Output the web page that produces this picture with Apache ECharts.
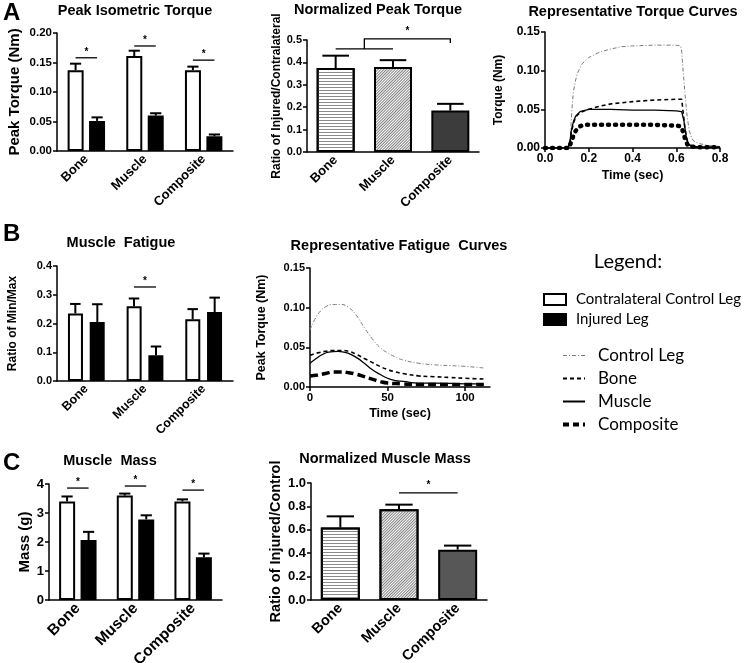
<!DOCTYPE html>
<html><head><meta charset="utf-8">
<script src="https://cdn.jsdelivr.net/npm/echarts@6/dist/echarts.min.js"></script>
<style>html,body{margin:0;padding:0;background:#fff}#c{width:748px;height:663px}</style>
</head><body><div id="c"></div>
<script>
const groups = ['Bone', 'Muscle', 'Composite'];
// A – Peak isometric torque (Nm)
const torqueControl = [0.137, 0.161, 0.137];
const torqueControlErr = [0.011, 0.009, 0.006];
const torqueInjured = [0.051, 0.060, 0.025];
const torqueInjuredErr = [0.006, 0.004, 0.003];
const torqueSig = [0.158, 0.178, 0.154];
// A – Normalized peak torque
const torqueRatio = [0.375, 0.38, 0.185];
const torqueRatioErr = [0.055, 0.03, 0.03];
const torqueRatioBracket = [[0, 1, 2, 0.46, 0.505, 0.487]];
// A – Representative torque curves [time s, torque Nm]
const tcControl = [[0,0],[0.105,0],[0.115,0.01],[0.12,0.035],[0.125,0.058],[0.13,0.073],[0.14,0.088],[0.15,0.098],[0.17,0.109],[0.2,0.117],[0.25,0.124],[0.3,0.128],[0.35,0.131],[0.4,0.132],[0.5,0.133],[0.6,0.133],[0.62,0.132],[0.625,0.125],[0.63,0.105],[0.64,0.07],[0.65,0.04],[0.66,0.022],[0.67,0.013],[0.68,0.009],[0.7,0.006],[0.75,0.003],[0.8,0.002]];
const tcBone = [[0,0],[0.105,0],[0.115,0.008],[0.12,0.02],[0.13,0.032],[0.14,0.04],[0.16,0.046],[0.2,0.05],[0.25,0.054],[0.3,0.057],[0.4,0.06],[0.5,0.062],[0.6,0.063],[0.625,0.063],[0.63,0.05],[0.64,0.025],[0.65,0.01],[0.66,0.004],[0.7,0.001],[0.8,0.001]];
const tcMuscle = [[0,0],[0.105,0],[0.115,0.01],[0.12,0.022],[0.13,0.034],[0.14,0.041],[0.16,0.047],[0.2,0.05],[0.3,0.05],[0.4,0.049],[0.5,0.049],[0.6,0.048],[0.625,0.047],[0.635,0.035],[0.645,0.015],[0.655,0.005],[0.67,0.002],[0.7,0.001],[0.8,0.001]];
const tcComposite = [[0,0],[0.11,0],[0.12,0.008],[0.13,0.016],[0.14,0.022],[0.16,0.028],[0.18,0.03],[0.3,0.03],[0.4,0.03],[0.5,0.03],[0.6,0.029],[0.62,0.028],[0.63,0.022],[0.64,0.012],[0.65,0.005],[0.66,0.002],[0.7,0.001],[0.8,0.001]];
// B – Muscle fatigue (ratio min/max)
const fatigueControl = [0.235, 0.26, 0.215];
const fatigueControlErr = [0.033, 0.027, 0.035];
const fatigueInjured = [0.205, 0.09, 0.24];
const fatigueInjuredErr = [0.062, 0.03, 0.05];
const fatigueSig = [[1, 0.327]];
// B – Representative fatigue curves [time s, peak torque Nm]
const fcControl = [[0,0.072],[3,0.085],[6,0.094],[10,0.101],[15,0.104],[20,0.104],[25,0.1],[30,0.09],[35,0.075],[40,0.061],[45,0.05],[50,0.043],[55,0.038],[60,0.034],[70,0.03],[80,0.028],[90,0.027],[100,0.026],[112,0.024]];
const fcBone = [[0,0.040],[5,0.043],[10,0.045],[15,0.046],[20,0.046],[25,0.045],[30,0.041],[35,0.036],[40,0.031],[45,0.026],[50,0.022],[55,0.019],[60,0.017],[70,0.014],[80,0.013],[90,0.012],[100,0.011],[112,0.010]];
const fcMuscle = [[0,0.030],[4,0.036],[8,0.041],[12,0.044],[18,0.045],[24,0.043],[30,0.037],[35,0.030],[40,0.022],[45,0.016],[50,0.011],[55,0.008],[60,0.007],[70,0.005],[80,0.005],[100,0.004],[112,0.004]];
const fcComposite = [[0,0.014],[5,0.015],[10,0.017],[15,0.019],[20,0.019],[25,0.018],[30,0.016],[35,0.013],[40,0.010],[45,0.007],[50,0.005],[60,0.004],[70,0.003],[90,0.003],[112,0.003]];
// C – Muscle mass (g)
const massControl = [3.4, 3.6, 3.4];
const massControlErr = [0.17, 0.07, 0.07];
const massInjured = [2.07, 2.78, 1.47];
const massInjuredErr = [0.28, 0.14, 0.13];
const massSig = [3.86, 3.93, 3.79];
// C – Normalized muscle mass
const massRatio = [0.62, 0.775, 0.43];
const massRatioErr = [0.095, 0.04, 0.035];
const massRatioSig = [[1, 2, 0.915]];

const F = '"Liberation Sans", Arial, sans-serif';
const chart = echarts.init(document.getElementById('c'));

function errRows(v, e) { return v.map((x, i) => [i, x, e[i]]); }
function errSeries(grid, v, e, side, pitch, barW) {
  return {
    type: 'custom', xAxisIndex: grid, yAxisIndex: grid, z: 3, silent: true,
    data: errRows(v, e),
    renderItem: (p, api) => {
      const c = api.coord([api.value(0), api.value(1)]);
      const t = api.coord([api.value(0), api.value(1) + api.value(2)]);
      const x = c[0] + side * pitch / 2, cap = barW * 0.35;
      return { type: 'group', children: [
        { type: 'line', shape: { x1: x, y1: c[1], x2: x, y2: t[1] }, style: { stroke: '#000', lineWidth: 2 } },
        { type: 'line', shape: { x1: x - cap, y1: t[1], x2: x + cap, y2: t[1] }, style: { stroke: '#000', lineWidth: 2 } }
      ] };
    }
  };
}
function star(x, y) {
  return { type: 'text', x: x, y: y - 1, style: { text: '*', fill: '#000', font: 'bold 10px ' + F, align: 'center', verticalAlign: 'bottom' } };
}
function sigGroupSeries(grid, rows, pitch) {
  return {
    type: 'custom', xAxisIndex: grid, yAxisIndex: grid, silent: true, data: rows,
    renderItem: (p, api) => {
      const c = api.coord([api.value(0), api.value(1)]);
      return { type: 'group', children: [
        { type: 'line', shape: { x1: c[0] - pitch / 2, y1: c[1], x2: c[0] + pitch / 2, y2: c[1] }, style: { stroke: '#000', lineWidth: 1.3 } },
        star(c[0], c[1])
      ] };
    }
  };
}
function sigPairSeries(grid, rows) {
  return {
    type: 'custom', xAxisIndex: grid, yAxisIndex: grid, silent: true, data: rows,
    renderItem: (p, api) => {
      const a = api.coord([api.value(0), api.value(2)]);
      const b = api.coord([api.value(1), api.value(2)]);
      return { type: 'group', children: [
        { type: 'line', shape: { x1: a[0], y1: a[1], x2: b[0], y2: b[1] }, style: { stroke: '#000', lineWidth: 1.3 } },
        star((a[0] + b[0]) / 2, a[1] - 2)
      ] };
    }
  };
}
function bracketSeries(grid, rows) {
  return {
    type: 'custom', xAxisIndex: grid, yAxisIndex: grid, silent: true, data: rows,
    renderItem: (p, api) => {
      const a = api.coord([api.value(0), api.value(3)]);
      const b = api.coord([api.value(1), api.value(3)]);
      const m = (a[0] + b[0]) / 2;
      const top = api.coord([api.value(2), api.value(4)]);
      const end = api.coord([api.value(2), api.value(5)]);
      const st = { stroke: '#000', lineWidth: 1.3, fill: null };
      return { type: 'group', children: [
        { type: 'line', shape: { x1: a[0], y1: a[1], x2: b[0], y2: b[1] }, style: st },
        { type: 'polyline', shape: { points: [[m, a[1]], [m, top[1]], [top[0], top[1]], [top[0], end[1]]] }, style: st },
        star((m + top[0]) / 2, top[1] - 2)
      ] };
    }
  };
}
const axisLineStyle = { color: '#000', width: 1.5 };
function lbl(fs) { return { color: '#000', fontWeight: 'bold', fontSize: fs, fontFamily: F }; }
function catX(grid, fs) {
  return { type: 'category', gridIndex: grid, data: groups,
    axisLine: { lineStyle: axisLineStyle },
    axisTick: { alignWithLabel: true, length: 4, lineStyle: axisLineStyle },
    axisLabel: Object.assign({ rotate: 45, margin: 6 }, lbl(fs)) };
}
function valAxis(grid, min, max, interval, digits, name, gap, tickFs, nameFs, extra) {
  return Object.assign({ type: 'value', gridIndex: grid, min: min, max: max, interval: interval,
    name: name, nameLocation: 'middle', nameGap: gap, nameTextStyle: lbl(nameFs),
    splitLine: { show: false },
    axisLine: { show: true, lineStyle: axisLineStyle },
    axisTick: { show: true, length: 4, lineStyle: axisLineStyle },
    axisLabel: Object.assign({ margin: 5, formatter: v => v.toFixed(digits) }, lbl(tickFs)) }, extra || {});
}
function bar(grid, name, data, w, gap, style) {
  return { type: 'bar', name: name, xAxisIndex: grid, yAxisIndex: grid, data: data, barWidth: w, barGap: gap,
    itemStyle: Object.assign({ borderColor: '#000', borderWidth: 2 }, style), silent: true };
}
const whiteBar = { color: '#fff' };
const blackBar = { color: '#000' };
const boneDecal = { color: '#fff', decal: { symbol: 'rect', symbolSize: 1, dashArrayX: [1, 0], dashArrayY: [1, 2], rotation: 0, color: '#8a8a8a' } };
const muscleDecal = { color: '#fff', decal: { symbol: 'rect', symbolSize: 1, dashArrayX: [1, 0], dashArrayY: [1, 1], rotation: -Math.PI / 4, color: '#808080' } };
function ratioBars(grid, vals, compColor, w) {
  return bar(grid, 'ratio' + grid, vals.map((v, i) => ({ value: v,
    itemStyle: i === 0 ? boneDecal : i === 1 ? muscleDecal : { color: compColor } })), w, '0%', {});
}
function line(grid, name, data, ls, smooth) {
  return { type: 'line', name: name, xAxisIndex: grid, yAxisIndex: grid, data: data, symbol: 'none',
    smooth: smooth, lineStyle: ls, itemStyle: { color: ls.color }, silent: true, z: name === 'Control Leg' ? 1 : 2 };
}
const lsControl = { color: '#7a7a7a', width: 1, type: [4, 2, 1, 2] };
const lsBone = { color: '#000', width: 1.6, type: [4, 3] };
const lsMuscle = { color: '#000', width: 1.3, type: 'solid' };
const lsCompA = { color: '#000', width: 4.5, type: [1, 6], cap: 'round' };
const lsCompB = { color: '#000', width: 3.5, type: [8, 4] };

const gridBoxes = [
  { left: 57, top: 33, width: 176, height: 118 },   // 0 A peak torque
  { left: 307, top: 40, width: 172, height: 112 },  // 1 A normalized
  { left: 545, top: 32, width: 175, height: 116 },  // 2 A curves
  { left: 57, top: 266, width: 176, height: 115 },  // 3 B fatigue
  { left: 310, top: 268, width: 180, height: 119 }, // 4 B curves
  { left: 49, top: 484, width: 173, height: 116 },  // 5 C mass
  { left: 311, top: 483, width: 176, height: 117 }  // 6 C normalized
];
const grids = gridBoxes.map(g => Object.assign({ containLabel: false, outerBoundsMode: 'none' }, g));

function txt(x, y, s, font, align) {
  return { type: 'text', x: x, y: y, style: { text: s, fill: '#000', font: font, align: align || 'center', verticalAlign: 'middle' } };
}
const TF = 'bold 14.5px ' + F;
const LF = 'bold 24px ' + F;

const option = {
  animation: false,
  backgroundColor: '#fff',
  grid: grids,
  xAxis: [
    catX(0, 13), catX(1, 13),
    valAxis(2, 0, 0.8, 0.2, 1, 'Time (sec)', 21, 12, 12.5),
    catX(3, 12.5),
    valAxis(4, 0, 116, 50, 0, 'Time (sec)', 20, 11.5, 12.5, {
      axisLabel: Object.assign({ margin: 5, customValues: [0, 50, 100] }, lbl(11.5)),
      axisTick: { show: true, length: 4, lineStyle: axisLineStyle, customValues: [0, 50, 100] } }),
    catX(5, 15.5), catX(6, 14.5)
  ],
  yAxis: [
    valAxis(0, 0, 0.2, 0.05, 2, 'Peak Torque (Nm)', 35, 11.5, 15),
    valAxis(1, 0, 0.5, 0.1, 1, 'Ratio of Injured/Contralateral', 23, 11, 12),
    valAxis(2, 0, 0.15, 0.05, 2, 'Torque (Nm)', 40, 12, 12),
    valAxis(3, 0, 0.4, 0.1, 1, 'Ratio of Min/Max', 38, 11, 12),
    valAxis(4, 0, 0.15, 0.05, 2, 'Peak Torque (Nm)', 42, 11, 12.5),
    valAxis(5, 0, 4, 1, 0, 'Mass (g)', 17, 13, 15),
    valAxis(6, 0, 1, 0.2, 1, 'Ratio of Injured/Control', 28, 13, 14.5)
  ],
  legend: [
    { data: ['Contralateral Control Leg', 'Injured Leg'], orient: 'vertical', left: 543, top: 292, padding: 0,
      itemWidth: 22, itemHeight: 11, itemGap: 5, icon: 'rect', selectedMode: false,
      textStyle: { fontFamily: 'Lato', fontSize: 15, color: '#000', padding: [0, 0, 0, 5] } },
    { data: [
        { name: 'Control Leg', lineStyle: { color: '#7a7a7a', width: 1.2, type: [4, 2, 1, 2] } },
        { name: 'Bone', lineStyle: { color: '#000', width: 2, type: [4, 3] } },
        { name: 'Muscle', lineStyle: { color: '#000', width: 2, type: 'solid' } },
        { name: 'Composite', lineStyle: { color: '#000', width: 4, type: [6, 4], cap: 'butt' } }
      ], orient: 'vertical', left: 561, top: 347, padding: 0,
      itemWidth: 22, itemHeight: 14, itemGap: 6, selectedMode: false,
      itemStyle: { opacity: 0 },
      textStyle: { fontFamily: 'Lato', fontSize: 17, color: '#000', padding: [0, 0, 0, 8] } }
  ],
  graphic: [
    txt(3, 13, 'A', LF, 'left'),
    txt(3, 234, 'B', LF, 'left'),
    txt(3, 463, 'C', LF, 'left'),
    txt(135, 11, 'Peak Isometric Torque', TF),
    txt(378, 10, 'Normalized Peak Torque', TF),
    txt(633, 12, 'Representative Torque Curves', TF),
    txt(121, 243, 'Muscle  Fatigue', TF),
    txt(399, 246, 'Representative Fatigue  Curves', TF),
    txt(628, 262, 'Legend:', '20px Lato'),
    txt(110, 461, 'Muscle  Mass', TF),
    txt(385, 459, 'Normalized Muscle Mass', TF)
  ],
  series: [
    // A left
    bar(0, 'Contralateral Control Leg', torqueControl, 16, '34%', whiteBar),
    bar(0, 'Injured Leg', torqueInjured, 16, '34%', blackBar),
    errSeries(0, torqueControl, torqueControlErr, -1, 21.5, 16),
    errSeries(0, torqueInjured, torqueInjuredErr, 1, 21.5, 16),
    sigGroupSeries(0, torqueSig.map((y, i) => [i, y]), 21.5),
    // A middle
    ratioBars(1, torqueRatio, '#3c3c3c', 38),
    errSeries(1, torqueRatio, torqueRatioErr, 0, 0, 38),
    bracketSeries(1, torqueRatioBracket),
    // A right
    line(2, 'Control Leg', tcControl, lsControl, false),
    line(2, 'Bone', tcBone, lsBone, false),
    line(2, 'Muscle', tcMuscle, lsMuscle, false),
    line(2, 'Composite', tcComposite, lsCompA, false),
    // B left
    bar(3, 'Contralateral Control Leg', fatigueControl, 15, '45%', whiteBar),
    bar(3, 'Injured Leg', fatigueInjured, 15, '45%', blackBar),
    errSeries(3, fatigueControl, fatigueControlErr, -1, 22, 15),
    errSeries(3, fatigueInjured, fatigueInjuredErr, 1, 22, 15),
    sigGroupSeries(3, fatigueSig, 22),
    // B middle
    line(4, 'Control Leg', fcControl, lsControl, true),
    line(4, 'Bone', fcBone, lsBone, true),
    line(4, 'Muscle', fcMuscle, lsMuscle, true),
    line(4, 'Composite', fcComposite, lsCompB, true),
    // C left
    bar(5, 'Contralateral Control Leg', massControl, 16, '34%', whiteBar),
    bar(5, 'Injured Leg', massInjured, 16, '34%', blackBar),
    errSeries(5, massControl, massControlErr, -1, 21.5, 16),
    errSeries(5, massInjured, massInjuredErr, 1, 21.5, 16),
    sigGroupSeries(5, massSig.map((y, i) => [i, y]), 21.5),
    // C right
    ratioBars(6, massRatio, '#575757', 39),
    errSeries(6, massRatio, massRatioErr, 0, 0, 39),
    sigPairSeries(6, massRatioSig)
  ]
};
chart.setOption(option);
</script></body></html>
